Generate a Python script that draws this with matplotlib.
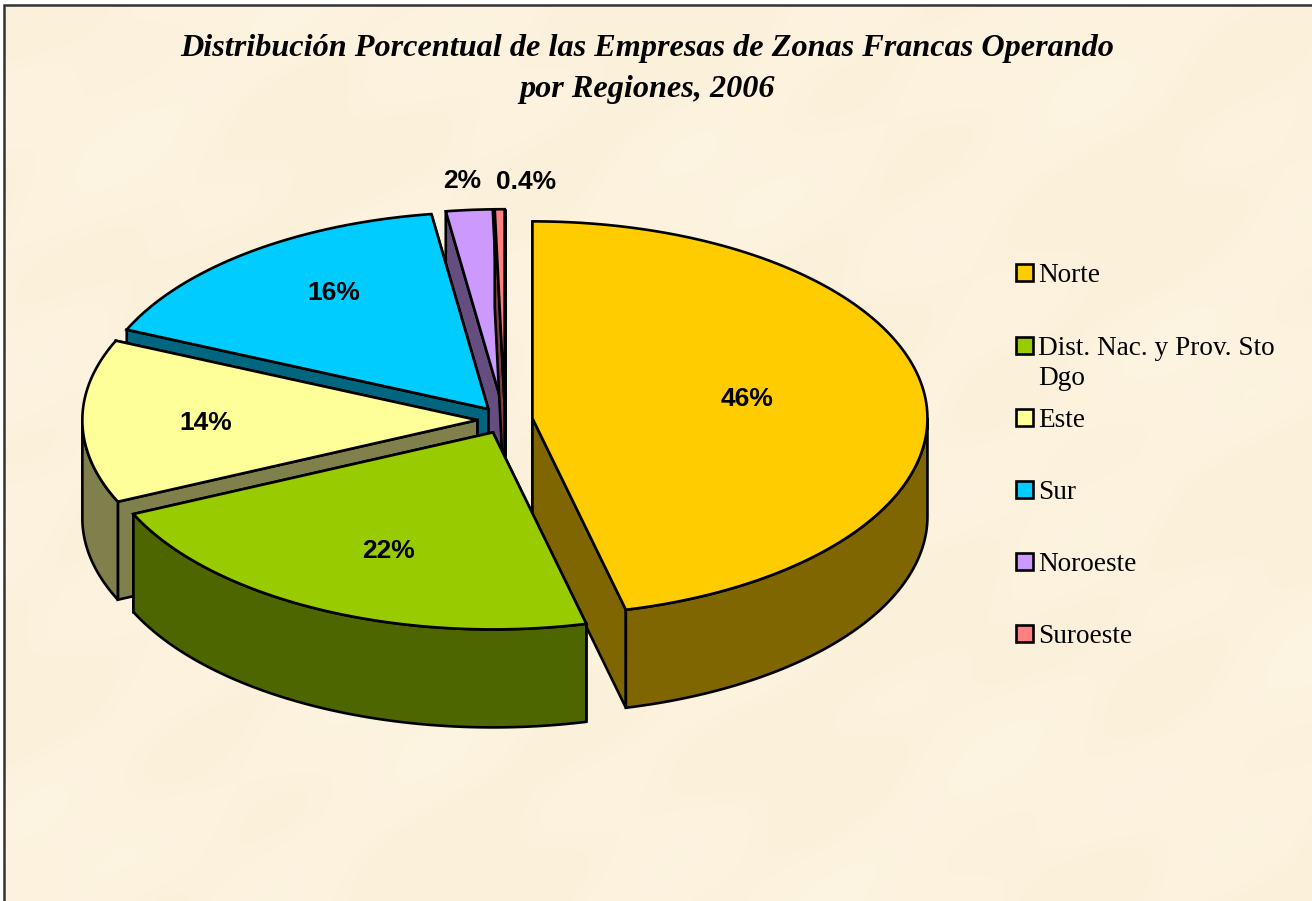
import numpy as np
import matplotlib
matplotlib.use('Agg')
import matplotlib.pyplot as plt
from matplotlib.patches import Polygon, Rectangle

categories = ['Norte', 'Dist. Nac. y Prov. Sto\nDgo', 'Este', 'Sur', 'Noroeste', 'Suroeste']
values = [46.2, 22.0, 13.4, 16.1, 1.9, 0.4]
value_labels = ['46%', '22%', '14%', '16%', '2%', '0.4%']
top_colors = ['#FFCC00', '#99CC00', '#FFFF99', '#00CCFF', '#CC99FF', '#FF8080']
wall_colors = ['#806600', '#4D6600', '#80804D', '#006680', '#664D80', '#804040']
legend_y = [273, 346, 418, 490, 562, 634]

# pie geometry, in pixels
CX, CY = 505, 420
RX, RY = 395, 197
DEPTH = 98
EXPLODE = 0.07
LW = 1.9
# where the value labels sit, as share of radius from the slice tip + small nudge
label_r = [0.55, 0.62, 0.68, 0.64, 1.15, 1.15]
label_nudge = [(-1, -6), (3, 9), (-3, 2), (-1, -16), (-2, 0), (27, 2)]

plt.rcParams['font.family'] = ['Liberation Serif', 'DejaVu Serif']

fig = plt.figure(figsize=(13.12, 9.01), dpi=100, facecolor='white')
ax = fig.add_axes([0, 0, 1, 1])
ax.set_xlim(0, 1312)
ax.set_ylim(901, 0)
ax.axis('off')

# parchment background, low frequency mottling from a few sines
xx, yy = np.meshgrid(np.arange(0, 1312, 4), np.arange(0, 901, 4))
mott = (np.sin(xx / 47 + yy / 83) + np.sin(xx / 91 - yy / 37 + 1.3)
        + np.sin(xx / 29 + yy / 23 + 0.5) + np.sin(xx / 131 + yy / 59 + 2.1)) / 4
c1 = np.array([253, 244, 226]) / 255
c2 = np.array([251, 240, 216]) / 255
tex = c1 + (c2 - c1) * (mott[..., None] + 1) / 2
ax.imshow(tex, extent=(4, 1312, 901, 5), aspect='auto', zorder=0, interpolation='bicubic')
ax.set_xlim(0, 1312)
ax.set_ylim(901, 0)
ax.plot([4, 4, 1312], [901, 5, 5], color='#333333', lw=1.8, zorder=1, solid_joinstyle='miter')


def rim(tip, deg):
    t = np.radians(deg)
    return np.array([tip[0] + RX * np.sin(t), tip[1] - RY * np.cos(t)])


def poly(points, color, z):
    ax.add_patch(Polygon(points, closed=True, facecolor=color, edgecolor='black',
                         lw=LW, joinstyle='miter', zorder=z))


fracs = np.array(values) / sum(values)
edges = np.concatenate([[0], np.cumsum(fracs) * 360])
down = np.array([0, DEPTH])

# back to front
draw_order = [4, 5, 0, 3, 2, 1]
for n, i in enumerate(draw_order):
    a0, a1 = edges[i], edges[i + 1]
    mid = np.radians((a0 + a1) / 2)
    tip = np.array([CX + EXPLODE * RX * np.sin(mid), CY - EXPLODE * RY * np.cos(mid)])
    z = 10 + n

    # cut faces, the one lower on the screen goes last
    walls = sorted([a0, a1], key=lambda a: rim(tip, a)[1])
    for a in walls:
        p = rim(tip, a)
        poly([tip, p, p + down, tip + down], wall_colors[i], z)

    # outer curved wall, only the front half can be seen
    w0, w1 = max(a0, 90), min(a1, 270)
    if w1 > w0:
        arc = np.array([rim(tip, a) for a in np.linspace(w0, w1, 120)])
        poly(np.vstack([arc, arc[::-1] + down]), wall_colors[i], z)

    top = np.array([rim(tip, a) for a in np.linspace(a0, a1, 200)])
    poly(np.vstack([[tip], top]), top_colors[i], z)

    lx = tip[0] + label_r[i] * RX * np.sin(mid) + label_nudge[i][0]
    ly = tip[1] - label_r[i] * RY * np.cos(mid) + label_nudge[i][1]
    ax.text(lx, ly, value_labels[i], family='Liberation Sans', fontweight='bold',
            fontsize=19, ha='center', va='center', color='black', zorder=50)

# legend
for i, cat in enumerate(categories):
    ax.add_patch(Rectangle((1016, legend_y[i] - 9.5), 16.5, 17, facecolor=top_colors[i],
                           edgecolor='black', lw=LW, zorder=20))
    ax.text(1038.5, legend_y[i] - 10, cat, fontsize=19.6, va='top', ha='left',
            linespacing=1.26, color='black', zorder=20)

ax.text(647, 69, 'Distribución Porcentual de las Empresas de Zonas Francas Operando\npor Regiones, 2006',
        fontsize=23.2, fontweight='bold', fontstyle='italic', ha='center', va='center',
        linespacing=1.52, color='black', zorder=20)

fig.savefig('out.png', dpi=100, facecolor='white')
